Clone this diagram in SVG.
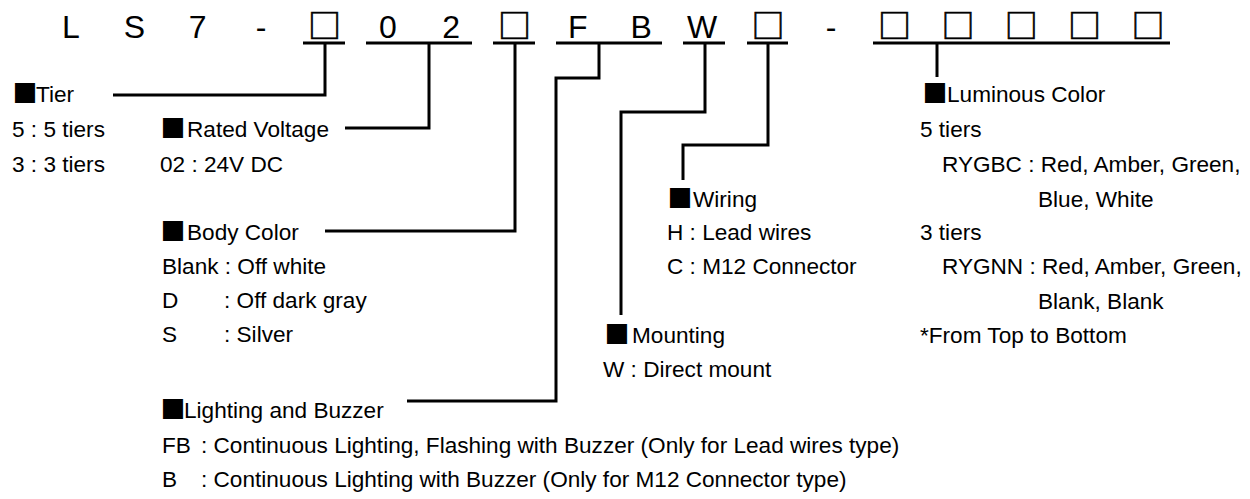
<svg xmlns="http://www.w3.org/2000/svg" width="1250" height="499" viewBox="0 0 1250 499">
<style>
text{font-family:"Liberation Sans",Arial,sans-serif;fill:#000}
.t{font-size:22.6px}
.c{font-size:32px;text-anchor:middle}
.bx{font-family:"Noto Sans CJK JP","Noto Sans CJK SC",sans-serif;font-size:33px;stroke:#000;stroke-width:0.7}
.sq{font-family:"Noto Sans CJK JP","Noto Sans CJK SC",sans-serif;font-size:25px}
.ln{fill:none;stroke:#000;stroke-width:3}
</style>
<rect width="1250" height="499" fill="#fff"/>
<g id="code">
<text class="c" x="71" y="38">L</text>
<text class="c" x="134.4" y="38">S</text>
<text class="c" x="197.7" y="38">7</text>
<text class="c" x="261" y="38">-</text>
<text class="c" x="324.4" y="38"><tspan class="bx">□</tspan></text>
<text class="c" x="387.8" y="38">0</text>
<text class="c" x="451.1" y="38">2</text>
<text class="c" x="514.5" y="38"><tspan class="bx">□</tspan></text>
<text class="c" x="577.8" y="38">F</text>
<text class="c" x="641.2" y="38">B</text>
<text class="c" x="702" y="38">W</text>
<text class="c" x="767.9" y="38"><tspan class="bx">□</tspan></text>
<text class="c" x="831.2" y="38">-</text>
<text class="c" x="894.6" y="38"><tspan class="bx">□</tspan></text>
<text class="c" x="957.9" y="38"><tspan class="bx">□</tspan></text>
<text class="c" x="1021.3" y="38"><tspan class="bx">□</tspan></text>
<text class="c" x="1084.6" y="38"><tspan class="bx">□</tspan></text>
<text class="c" x="1148" y="38"><tspan class="bx">□</tspan></text>
</g>
<g id="connectors">
<line class="ln" x1="303" y1="43" x2="345" y2="43"/>
<line class="ln" x1="366" y1="43" x2="472" y2="43"/>
<line class="ln" x1="493" y1="43" x2="535" y2="43"/>
<line class="ln" x1="556" y1="43" x2="662" y2="43"/>
<line class="ln" x1="683" y1="43" x2="725" y2="43"/>
<line class="ln" x1="747" y1="43" x2="788" y2="43"/>
<line class="ln" x1="873" y1="43" x2="1170" y2="43"/>
<path class="ln" d="M113,95 H325 V43"/>
<path class="ln" d="M345,128 H429 V43"/>
<path class="ln" d="M325,231 H515 V43"/>
<path class="ln" d="M407,401 H556 V78 H599 V43"/>
<path class="ln" d="M621,315 V112 H705 V43"/>
<path class="ln" d="M683,180 V145 H768 V43"/>
<path class="ln" d="M937,77 V43"/>
</g>
<g id="tier">
<text class="t" x="12.5" y="102"><tspan class="sq" dy="1">■</tspan><tspan x="36" dy="-1">Tier</tspan></text>
<text class="t" x="12" y="137">5 : 5 tiers</text>
<text class="t" x="12" y="172">3 : 3 tiers</text>
</g>
<g id="rated-voltage">
<text class="t" x="160.5" y="137"><tspan class="sq" dy="1">■</tspan><tspan x="187" dy="-1">Rated Voltage</tspan></text>
<text class="t" x="160" y="172">02 : 24V DC</text>
</g>
<g id="body-color">
<text class="t" x="160.5" y="240"><tspan class="sq" dy="1">■</tspan><tspan x="187" dy="-1">Body Color</tspan></text>
<text class="t" x="162" y="274">Blank : Off white</text>
<text class="t" y="308"><tspan x="162">D</tspan><tspan x="224">: Off dark gray</tspan></text>
<text class="t" y="342"><tspan x="162">S</tspan><tspan x="224">: Silver</tspan></text>
</g>
<g id="lighting-buzzer">
<text class="t" x="160.5" y="418"><tspan class="sq" dy="1">■</tspan><tspan x="184" dy="-1">Lighting and Buzzer</tspan></text>
<text class="t" y="453"><tspan x="162">FB</tspan><tspan x="201">: Continuous Lighting, Flashing with Buzzer (Only for Lead wires type)</tspan></text>
<text class="t" y="487"><tspan x="162">B</tspan><tspan x="201">: Continuous Lighting with Buzzer (Only for M12 Connector type)</tspan></text>
</g>
<g id="mounting">
<text class="t" x="604.5" y="343"><tspan class="sq" dy="1">■</tspan><tspan x="632" dy="-1">Mounting</tspan></text>
<text class="t" x="603" y="377">W : Direct mount</text>
</g>
<g id="wiring">
<text class="t" x="667.5" y="207"><tspan class="sq" dy="1">■</tspan><tspan x="693" dy="-1">Wiring</tspan></text>
<text class="t" x="667" y="240">H : Lead wires</text>
<text class="t" x="667" y="274">C : M12 Connector</text>
</g>
<g id="luminous-color">
<text class="t" x="922.5" y="102"><tspan class="sq" dy="1">■</tspan><tspan x="947" dy="-1">Luminous Color</tspan></text>
<text class="t" x="920" y="137">5 tiers</text>
<text class="t" x="942" y="172">RYGBC : Red, Amber, Green,</text>
<text class="t" x="1038" y="207">Blue, White</text>
<text class="t" x="920" y="240">3 tiers</text>
<text class="t" x="942" y="274">RYGNN : Red, Amber, Green,</text>
<text class="t" x="1038" y="309">Blank, Blank</text>
<text class="t" x="920" y="343">*From Top to Bottom</text>
</g>
</svg>
